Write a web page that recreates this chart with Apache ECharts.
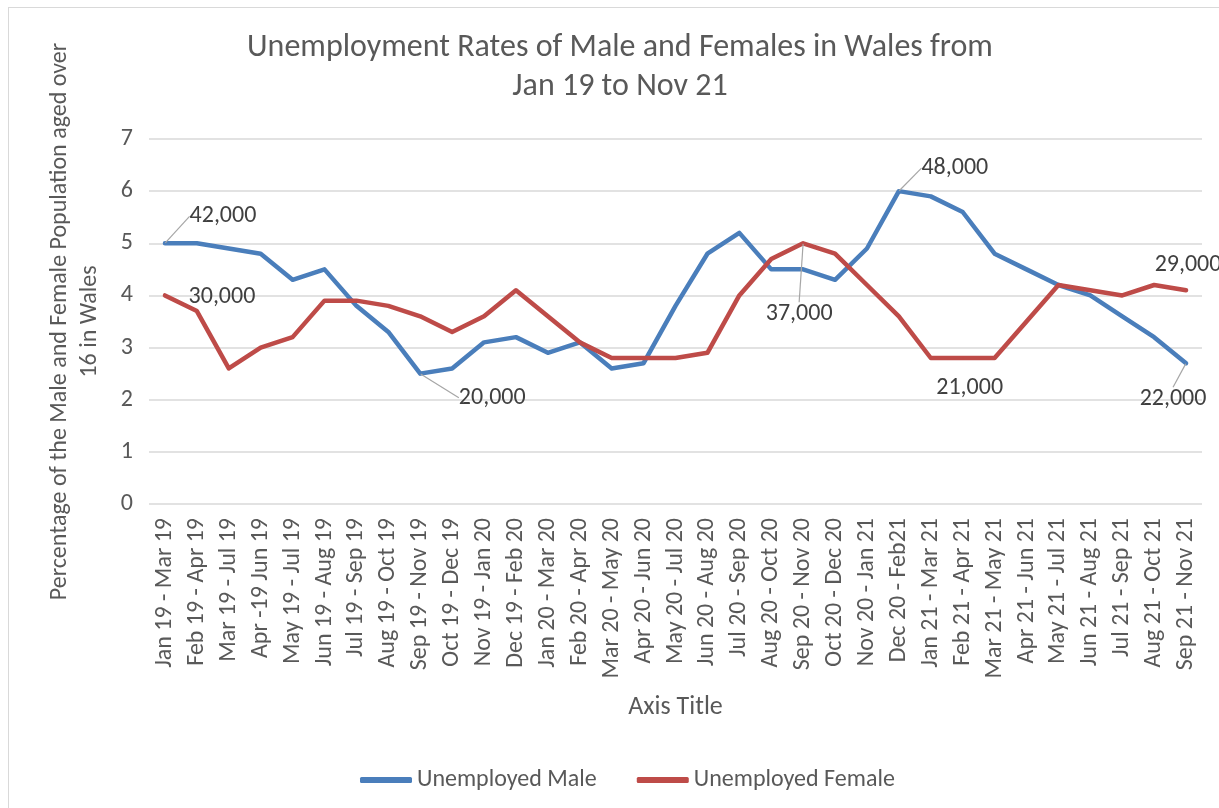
<!DOCTYPE html>
<html><head><meta charset="utf-8">
<script src="https://cdn.jsdelivr.net/npm/echarts@6/dist/echarts.min.js"></script>
<style>
html,body{margin:0;padding:0;background:#fff;overflow:hidden;width:1219px;height:808px}
#frame{position:absolute;left:8px;top:7px;width:1240px;height:830px;border:1px solid #d9d9d9;box-sizing:border-box}
#chart{position:absolute;left:0;top:0;width:1219px;height:808px}
</style></head>
<body><div id="frame"></div><div id="chart"></div>
<script>
const categories = [
  'Jan 19 - Mar 19','Feb 19 - Apr 19','Mar 19 - Jul 19','Apr -19 Jun 19','May 19 - Jul 19',
  'Jun 19 - Aug 19','Jul 19 - Sep 19','Aug 19 - Oct 19','Sep 19 - Nov 19','Oct 19 - Dec 19',
  'Nov 19 - Jan 20','Dec 19 - Feb 20','Jan 20 - Mar 20','Feb 20 - Apr 20','Mar 20 - May 20',
  'Apr 20 - Jun 20','May 20 - Jul 20','Jun 20 - Aug 20','Jul 20 - Sep 20','Aug 20 - Oct 20',
  'Sep 20 - Nov 20','Oct 20 - Dec 20','Nov 20 - Jan 21','Dec 20 - Feb21','Jan 21 - Mar 21',
  'Feb 21 - Apr 21','Mar 21 - May 21','Apr 21 - Jun 21','May 21 - Jul 21','Jun 21 - Aug 21',
  'Jul 21 - Sep 21','Aug 21 - Oct 21','Sep 21 - Nov 21'
];
const maleRate = [5.0,5.0,4.9,4.8,4.3,4.5,3.8,3.3,2.5,2.6,3.1,3.2,2.9,3.1,2.6,2.7,3.8,4.8,5.2,4.5,4.5,4.3,4.9,6.0,5.9,5.6,4.8,4.5,4.2,4.0,3.6,3.2,2.7];
const femaleRate = [4.0,3.7,2.6,3.0,3.2,3.9,3.9,3.8,3.6,3.3,3.6,4.1,3.6,3.1,2.8,2.8,2.8,2.9,4.0,4.7,5.0,4.8,4.2,3.6,2.8,2.8,2.8,3.5,4.2,4.1,4.0,4.2,4.1];
const yTicks = [0,1,2,3,4,5,6,7];
const maleLabels = {0:'42,000', 8:'20,000', 23:'48,000', 32:'22,000'};
const femaleLabels = {0:'30,000', 20:'37,000', 25:'21,000', 32:'29,000'};

// label placement (offset from point, leader line on/off)
const maleLabelPlace = {0:[58,-27,true], 8:[72,24,true], 23:[56,-23,true], 32:[-13,36,true]};
const femaleLabelPlace = {0:[57,2,false], 20:[-4,71,true], 25:[7,30,false], 32:[2,-25,false]};
const places = [maleLabelPlace, femaleLabelPlace];

const FONT = 'Carlito, Lato, "Noto Sans", sans-serif';
const TXT = '#595959';

function buildData(values, labels, place) {
  return values.map((v, i) => {
    if (labels[i] === undefined) return v;
    return {
      value: v,
      label: {show: true, formatter: labels[i]},
      labelLine: {show: !!place[i][2]}
    };
  });
}

const chart = echarts.init(document.getElementById('chart'), null, {renderer: 'canvas'});
chart.setOption({
  animation: false,
  backgroundColor: 'transparent',
  textStyle: {fontFamily: FONT},
  title: {
    text: 'Unemployment Rates of Male and Females in Wales from\nJan 19 to Nov 21',
    left: 620,
    top: 28,
    padding: 0,
    textAlign: 'center',
    textStyle: {fontFamily: FONT, fontSize: 32, fontWeight: 'normal', color: TXT, lineHeight: 39}
  },
  legend: {
    left: 355,
    top: 763,
    itemWidth: 52,
    itemHeight: 6,
    itemGap: 40,
    icon: 'roundRect',
    textStyle: {fontFamily: FONT, fontSize: 24, color: TXT},
    data: ['Unemployed Male', 'Unemployed Female']
  },
  grid: {left: 149, right: 17, top: 139, bottom: 304, containLabel: false},
  xAxis: {
    type: 'category',
    data: categories,
    boundaryGap: true,
    name: 'Axis Title',
    nameLocation: 'middle',
    nameGap: 190,
    nameTextStyle: {fontFamily: FONT, fontSize: 26, color: TXT},
    axisLine: {show: false},
    axisTick: {show: false},
    axisLabel: {interval: 0, rotate: 90, margin: 14, fontFamily: FONT, fontSize: 24, color: TXT}
  },
  yAxis: {
    type: 'value',
    min: yTicks[0],
    max: yTicks[yTicks.length - 1],
    interval: 1,
    name: 'Percentage of the Male and Female Population aged over\n16 in Wales',
    nameLocation: 'middle',
    nameGap: 44,
    nameRotate: 90,
    nameTextStyle: {fontFamily: FONT, fontSize: 24, color: TXT, lineHeight: 30, align: 'center'},
    axisLine: {show: false},
    axisTick: {show: false},
    axisLabel: {margin: 16, fontFamily: FONT, fontSize: 24, color: TXT},
    splitLine: {lineStyle: {color: '#d9d9d9', width: 1.5}}
  },
  series: [
    {
      name: 'Unemployed Male',
      type: 'line',
      data: buildData(maleRate, maleLabels, maleLabelPlace),
      symbol: 'circle',
      symbolSize: 1,
      showSymbol: true,
      color: '#4A7EBB',
      lineStyle: {width: 4.5, cap: 'round', join: 'round', color: '#4A7EBB'},
      itemStyle: {color: '#4A7EBB'},
      emphasis: {disabled: true},
      label: {show: false, position: 'inside', fontFamily: FONT, fontSize: 24, color: '#404040'},
      labelLine: {show: false, lineStyle: {color: '#a6a6a6', width: 1.2}},
      labelLayout: function (p) {
        const o = places[0][p.dataIndex];
        return o ? {dx: o[0], dy: o[1]} : {};
      },
      z: 3
    },
    {
      name: 'Unemployed Female',
      type: 'line',
      data: buildData(femaleRate, femaleLabels, femaleLabelPlace),
      symbol: 'circle',
      symbolSize: 1,
      showSymbol: true,
      color: '#BE4B48',
      lineStyle: {width: 4.5, cap: 'round', join: 'round', color: '#BE4B48'},
      itemStyle: {color: '#BE4B48'},
      emphasis: {disabled: true},
      label: {show: false, position: 'inside', fontFamily: FONT, fontSize: 24, color: '#404040'},
      labelLine: {show: false, lineStyle: {color: '#a6a6a6', width: 1.2}},
      labelLayout: function (p) {
        const o = places[1][p.dataIndex];
        return o ? {dx: o[0], dy: o[1]} : {};
      },
      z: 4
    }
  ]
});
</script>
</body></html>
